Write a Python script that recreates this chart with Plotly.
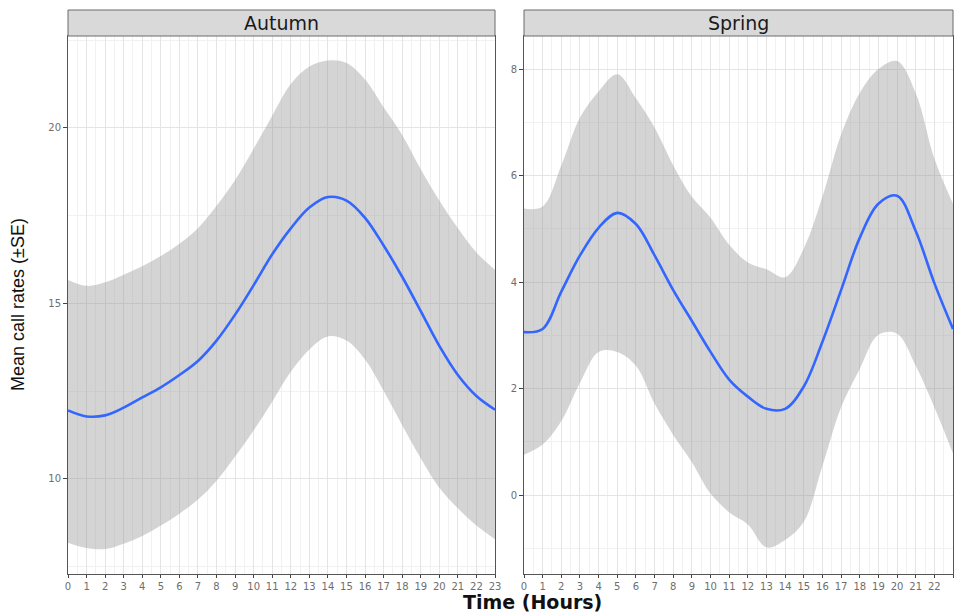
import plotly.graph_objects as go

# Hour of day
hours = list(range(24))

# Autumn: smoothed mean call rate with +/- SE band
autumn_mean = [11.95, 11.78, 11.81, 12.03, 12.32, 12.61, 12.96, 13.36, 13.94, 14.68, 15.52, 16.40,
               17.14, 17.73, 18.03, 17.93, 17.44, 16.65, 15.76, 14.78, 13.79, 12.96, 12.36, 11.97]
autumn_upper = [15.67, 15.50, 15.60, 15.82, 16.06, 16.35, 16.70, 17.14, 17.78, 18.52, 19.41, 20.35,
                21.25, 21.75, 21.92, 21.85, 21.38, 20.59, 19.80, 18.82, 17.93, 17.14, 16.45, 15.96]
autumn_lower = [8.18, 8.03, 8.00, 8.15, 8.37, 8.67, 9.01, 9.41, 9.95, 10.64, 11.38, 12.20,
                13.05, 13.69, 14.06, 13.94, 13.40, 12.51, 11.53, 10.59, 9.75, 9.16, 8.67, 8.28]

# Spring: smoothed mean call rate with +/- SE band
spring_mean = [3.06, 3.12, 3.82, 4.50, 5.02, 5.30, 5.09, 4.50, 3.85, 3.27, 2.69, 2.17,
               1.85, 1.62, 1.62, 2.04, 2.88, 3.85, 4.83, 5.47, 5.62, 4.96, 3.98, 3.12]
spring_upper = [5.38, 5.42, 6.19, 7.09, 7.58, 7.90, 7.45, 6.90, 6.19, 5.60, 5.21, 4.70,
                4.37, 4.24, 4.09, 4.63, 5.60, 6.77, 7.55, 8.00, 8.15, 7.55, 6.32, 5.47]
spring_lower = [0.76, 0.95, 1.39, 2.11, 2.69, 2.69, 2.43, 1.72, 1.13, 0.62, 0.03, -0.32,
                -0.55, -0.98, -0.84, -0.50, 0.55, 1.65, 2.37, 3.01, 3.03, 2.43, 1.65, 0.78]

seasons = ["Autumn", "Spring"]
x_ticks = list(range(24))
autumn_yticks = [10, 15, 20]
spring_yticks = [0, 2, 4, 6, 8]

W, H = 955, 613
# panel pixel geometry
panels = [(68, 495), (524, 953)]
top_px, bot_px = 36, 574
strip_top = 10

BAND = "rgba(153,153,153,0.42)"
BLUE = "#3366FF"

fig = go.Figure()

series = [
    (autumn_mean, autumn_upper, autumn_lower, "x", "y"),
    (spring_mean, spring_upper, spring_lower, "x2", "y2"),
]
for mean, upper, lower, xa, ya in series:
    fig.add_trace(go.Scatter(x=hours, y=lower, mode="lines", line=dict(width=0, shape="spline"),
                             hoverinfo="skip", showlegend=False, xaxis=xa, yaxis=ya))
    fig.add_trace(go.Scatter(x=hours, y=upper, mode="lines", line=dict(width=0, shape="spline"),
                             fill="tonexty", fillcolor=BAND, hoverinfo="skip",
                             showlegend=False, xaxis=xa, yaxis=ya))
    fig.add_trace(go.Scatter(x=hours, y=mean, mode="lines",
                             line=dict(color=BLUE, width=2.6, shape="spline"),
                             showlegend=False, xaxis=xa, yaxis=ya))

tick_font = dict(family="DejaVu Sans", size=10, color="#6e6e6e")
ydom = [1 - bot_px / H, 1 - top_px / H]


def xaxis_cfg(left, right, anchor):
    return dict(
        domain=[left / W, right / W], range=[0, 23], anchor=anchor,
        tickmode="array", tickvals=x_ticks, ticktext=[str(t) for t in x_ticks],
        ticks="outside", ticklen=3, tickcolor="#444", tickfont=tick_font,
        showgrid=True, gridcolor="#e4e4e4", gridwidth=1,
        minor=dict(dtick=0.5, tick0=0, showgrid=True, gridcolor="#f1f1f1", gridwidth=1, ticks=""),
        zeroline=False, showline=True, linecolor="#555", linewidth=1, mirror=True,
        automargin=False,
    )


def yaxis_cfg(rng, ticks, minor_step, anchor):
    return dict(
        domain=ydom, range=rng, anchor=anchor,
        tickmode="array", tickvals=ticks, ticktext=[str(t) for t in ticks],
        ticks="outside", ticklen=4, tickcolor="#444", tickfont=tick_font,
        showgrid=True, gridcolor="#e4e4e4", gridwidth=1,
        minor=dict(dtick=minor_step, tick0=0, showgrid=True, gridcolor="#f1f1f1", gridwidth=1, ticks=""),
        zeroline=False, showline=True, linecolor="#555", linewidth=1, mirror=True,
        automargin=False,
    )


fig.update_layout(
    width=W, height=H,
    margin=dict(l=0, r=0, t=0, b=0, autoexpand=False),
    paper_bgcolor="white", plot_bgcolor="white",
    xaxis=xaxis_cfg(*panels[0], "y"),
    xaxis2=xaxis_cfg(*panels[1], "y2"),
    yaxis=yaxis_cfg([7.29, 22.62], autumn_yticks, 2.5, "x"),
    yaxis2=yaxis_cfg([-1.48, 8.62], spring_yticks, 1, "x2"),
)

# facet strips
for (left, right), name in zip(panels, seasons):
    fig.add_shape(type="rect", xref="paper", yref="paper",
                  x0=left / W, x1=right / W,
                  y0=1 - top_px / H, y1=1 - strip_top / H,
                  fillcolor="#d9d9d9", line=dict(color="#6a6a6a", width=1), layer="above")
    fig.add_annotation(x=(left + right) / 2 / W, y=1 - (strip_top + top_px) / 2 / H,
                       xref="paper", yref="paper", text=name, showarrow=False,
                       font=dict(family="DejaVu Sans", size=19, color="#1a1a1a"),
                       xanchor="center", yanchor="middle")

# axis titles
fig.add_annotation(x=18 / W, y=1 - (top_px + bot_px) / 2 / H, xref="paper", yref="paper",
                   text="Mean call rates (±SE)", textangle=-90, showarrow=False,
                   font=dict(family="Liberation Sans, Arial", size=18, color="#111"),
                   xanchor="center", yanchor="middle")
fig.add_annotation(x=532 / W, y=1 - 602 / H, xref="paper", yref="paper",
                   text="<b>Time (Hours)</b>", showarrow=False,
                   font=dict(family="DejaVu Sans", size=19, color="#111"),
                   xanchor="center", yanchor="middle")

fig.write_html("out.html")
